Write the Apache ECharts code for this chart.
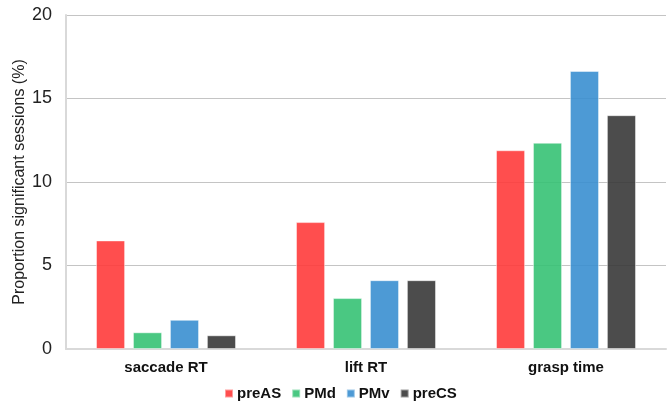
<!DOCTYPE html>
<html>
<head>
<meta charset="utf-8">
<script src="https://cdn.jsdelivr.net/npm/echarts@6/dist/echarts.min.js"></script>
<style>
  html, body { margin: 0; padding: 0; background: #fff; }
  #chart { width: 667px; height: 404px; }
</style>
</head>
<body>
<div id="chart"></div>
<script>
const categories = ["saccade RT", "lift RT", "grasp time"];
const preAS = [6.5, 7.6, 11.9];
const PMd = [1.0, 3.05, 12.35];
const PMv = [1.75, 4.12, 16.65];
const preCS = [0.82, 4.12, 14.0];
const yTicks = [0, 5, 10, 15, 20];

const COLORS = ["#ff3b3b", "#36c274", "#3a8fd0", "#383838"];

const chart = echarts.init(document.getElementById("chart"));

function barSeries(name, data, idx) {
  return {
    name: name,
    type: "bar",
    data: data,
    barGap: "27%",
    barCategoryGap: "30%",
    itemStyle: {
      color: COLORS[idx],
      opacity: 0.9,
      borderColor: "rgba(255,255,255,0.5)",
      borderWidth: 1
    }
  };
}

chart.setOption({
  animation: false,
  textStyle: { fontFamily: "Arial, 'Liberation Sans', sans-serif" },
  legend: {
    top: 381,
    left: 219,
    itemWidth: 8,
    itemHeight: 8,
    itemGap: 10,
    icon: "rect",
    textStyle: { fontSize: 15, fontWeight: "bold", color: "#111", padding: [0, 0, 0, -1] },
    data: ["preAS", "PMd", "PMv", "preCS"]
  },
  grid: { left: 66, right: 1, top: 15, bottom: 55, outerBoundsMode: "none" },
  xAxis: {
    type: "category",
    data: categories,
    axisTick: { show: false },
    axisLine: { lineStyle: { color: "#d9d9d9", width: 2 } },
    axisLabel: { fontSize: 15, fontWeight: "bold", color: "#111", margin: 11 }
  },
  yAxis: {
    type: "value",
    min: yTicks[0],
    max: yTicks[yTicks.length - 1],
    interval: 5,
    name: "Proportion significant sessions (%)",
    nameLocation: "middle",
    nameGap: 38,
    nameMoveOverlap: false,
    nameTextStyle: { fontSize: 16, color: "#222" },
    axisLine: { show: true, lineStyle: { color: "#d9d9d9", width: 2 } },
    axisTick: { show: false },
    axisLabel: { fontSize: 18, color: "#222", margin: 14 },
    splitLine: { lineStyle: { color: "#c4c4c4", width: 1 } }
  },
  series: [
    barSeries("preAS", preAS, 0),
    barSeries("PMd", PMd, 1),
    barSeries("PMv", PMv, 2),
    barSeries("preCS", preCS, 3)
  ]
});
</script>
</body>
</html>
